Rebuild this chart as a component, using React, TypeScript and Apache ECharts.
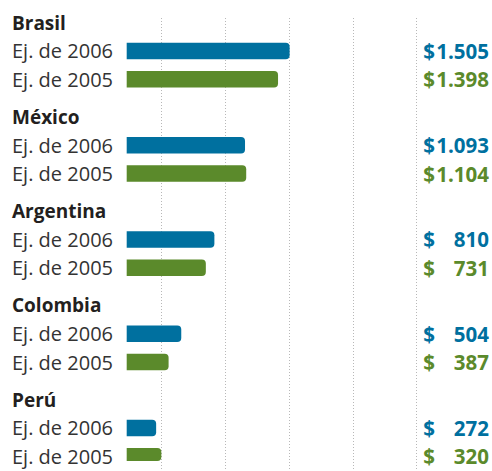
import React, { useEffect, useRef } from "react";
import * as echarts from "echarts";

const countries = ["Brasil", "México", "Argentina", "Colombia", "Perú"];
const seriesNames = ["Ej. de 2006", "Ej. de 2005"];
const values2006 = [1505, 1093, 810, 504, 272];
const values2005 = [1398, 1104, 731, 387, 320];

const BLUE = "#00709f";
const GREEN = "#5b8a2b";
const FONT = "'Open Sans', 'Noto Sans', sans-serif";

// slot layout: each country uses 10 slots: title at 0, 2006 at 3, 2005 at 6
const SLOTS_PER = 10;
const TOTAL_SLOTS = SLOTS_PER * (countries.length - 1) + 7;

type Slot = { key: string; kind: "title" | "s0" | "s1" | "empty"; c: number };

function buildSlots(): Slot[] {
  const slots: Slot[] = [];
  for (let i = 0; i < TOTAL_SLOTS; i++) {
    const c = Math.floor(i / SLOTS_PER);
    const r = i % SLOTS_PER;
    let kind: Slot["kind"] = "empty";
    if (r === 0) kind = "title";
    else if (r === 3) kind = "s0";
    else if (r === 6) kind = "s1";
    slots.push({ key: "k" + i, kind, c });
  }
  return slots;
}

function fmt(v: number): string {
  const s = String(v);
  if (v >= 1000) return s.slice(0, s.length - 3) + "." + s.slice(s.length - 3);
  return s;
}

export default function App() {
  const ref = useRef<HTMLDivElement>(null);
  useEffect(() => {
    if (!ref.current) return;
    const chart = echarts.init(ref.current, null, { renderer: "svg" });
    const slots = buildSlots();
    const cats = slots.map((s) => s.key);
    const d2006 = slots.map((s) => (s.kind === "s0" ? values2006[s.c] : "-"));
    const d2005 = slots.map((s) => (s.kind === "s1" ? values2005[s.c] : "-"));
    const slotByKey: Record<string, Slot> = {};
    slots.forEach((s) => (slotByKey[s.key] = s));

    chart.setOption({
      animation: false,
      grid: [
        { left: 126.7, right: 75.3, top: 18, height: TOTAL_SLOTS * 9.425 },
        { left: 161.7, right: 75.3, top: 18, bottom: 0 },
      ],
      xAxis: [
        {
          type: "value",
          gridIndex: 0,
          min: 0,
          max: 2675,
          show: true,
          axisLine: { show: false },
          axisTick: { show: false },
          axisLabel: { show: false },
          splitLine: { show: false },
        },
        {
          type: "value",
          gridIndex: 1,
          min: 0,
          max: 4,
          interval: 1,
          axisLine: { show: false },
          axisTick: { show: false },
          axisLabel: { show: false },
          splitLine: {
            show: true,
            lineStyle: { color: "#b8b8b8", type: [1, 2], width: 1 },
          },
        },
      ],
      yAxis: [
        {
          type: "category",
          gridIndex: 0,
          data: cats,
          inverse: true,
          axisLine: { show: false },
          axisTick: { show: false },
          axisLabel: {
            interval: 0,
            align: "left",
            margin: 114.7,
            formatter: (k: string) => {
              const s = slotByKey[k];
              if (!s) return "";
              if (s.kind === "title") return "{t|" + countries[s.c] + "}";
              if (s.kind === "s0") return "{l|" + seriesNames[0] + "}";
              if (s.kind === "s1") return "{l|" + seriesNames[1] + "}";
              return "";
            },
            rich: {
              t: { fontFamily: FONT, fontSize: 19, fontWeight: "bold", color: "#231f20" },
              l: { fontFamily: FONT, fontSize: 20, color: "#333333" },
            },
          },
        },
        {
          type: "category",
          gridIndex: 0,
          position: "right",
          data: cats,
          inverse: true,
          axisLine: { show: false },
          axisTick: { show: false },
          axisLabel: {
            interval: 0,
            margin: 7,
            formatter: (k: string) => {
              const s = slotByKey[k];
              if (!s) return "";
              if (s.kind === "s0") return "{b0|$}{b1|" + fmt(values2006[s.c]) + "}";
              if (s.kind === "s1") return "{g0|$}{g1|" + fmt(values2005[s.c]) + "}";
              return "";
            },
            rich: {
              b0: { fontFamily: FONT, fontSize: 20.5, fontWeight: "bold", color: BLUE },
              b1: { fontFamily: FONT, fontSize: 20.5, fontWeight: "bold", color: BLUE, width: 54, align: "right" },
              g0: { fontFamily: FONT, fontSize: 20.5, fontWeight: "bold", color: GREEN },
              g1: { fontFamily: FONT, fontSize: 20.5, fontWeight: "bold", color: GREEN, width: 54, align: "right" },
            },
          },
        },
        {
          type: "value",
          gridIndex: 1,
          show: false,
          splitLine: { show: false },
        },
      ],
      series: [
        {
          name: seriesNames[0],
          type: "bar",
          xAxisIndex: 0,
          yAxisIndex: 0,
          data: d2006,
          barWidth: 16.5,
          barGap: "-100%",
          itemStyle: { color: BLUE, borderRadius: [0, 4, 4, 0] },
          z: 3,
        },
        {
          name: seriesNames[1],
          type: "bar",
          xAxisIndex: 0,
          yAxisIndex: 0,
          data: d2005,
          barWidth: 16.5,
          barGap: "-100%",
          itemStyle: { color: GREEN, borderRadius: [0, 4, 4, 0] },
          z: 3,
        },
      ],
    });
    return () => chart.dispose();
  }, []);
  return (
    <div
      ref={ref}
      style={{ position: "absolute", left: 0, top: 0, width: 492, height: 471, background: "#fff" }}
    />
  );
}
